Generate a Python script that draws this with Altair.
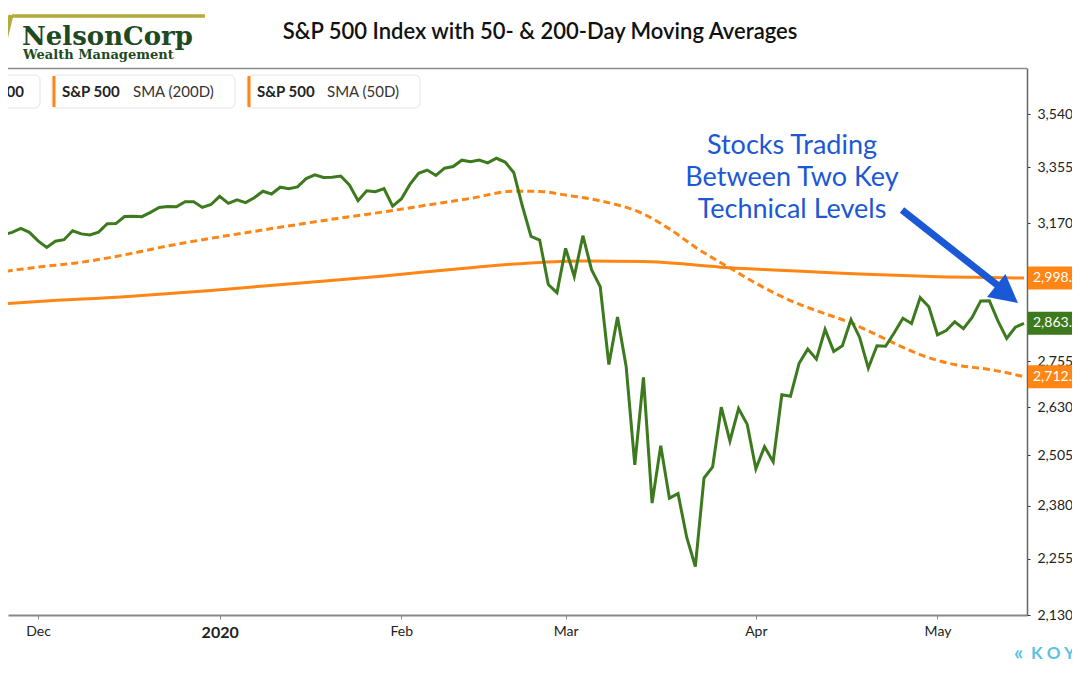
import altair as alt
import pandas as pd

# ---------------- data ----------------
holidays = ["2019-11-28", "2019-12-25", "2020-01-01", "2020-01-20", "2020-02-17", "2020-04-10"]
trade_days = [d.strftime("%Y-%m-%d") for d in pd.bdate_range("2019-11-22", "2020-05-15")
              if d.strftime("%Y-%m-%d") not in holidays]

close_nov = [3110.29, 3133.64, 3140.52, 3153.63, 3140.98]
close_dec = [3113.87, 3093.20, 3112.76, 3117.43, 3145.91, 3135.96, 3132.52, 3141.63, 3168.57, 3168.80,
             3191.45, 3192.52, 3191.14, 3205.37, 3221.22, 3224.01, 3223.38, 3239.91, 3240.02, 3221.29, 3230.78]
close_jan = [3257.85, 3234.85, 3246.28, 3237.18, 3253.05, 3274.70, 3265.35, 3288.13, 3283.15, 3289.29,
             3316.81, 3329.62, 3320.79, 3321.75, 3325.54, 3295.47, 3243.63, 3276.24, 3273.40, 3283.66, 3225.52]
close_feb = [3248.92, 3297.59, 3334.69, 3345.78, 3327.71, 3352.09, 3357.75, 3379.45, 3373.94, 3380.16,
             3370.29, 3386.15, 3373.23, 3337.75, 3225.89, 3128.21, 3116.39, 2978.76, 2954.22]
close_mar = [3090.23, 3003.37, 3130.12, 3023.94, 2972.37, 2746.56, 2882.23, 2741.38, 2480.64, 2711.02,
             2386.13, 2529.19, 2398.10, 2409.39, 2304.92, 2237.40, 2447.33, 2475.56, 2630.07, 2541.47,
             2626.65, 2584.59]
close_apr = [2470.50, 2526.90, 2488.65, 2663.68, 2659.41, 2749.98, 2789.82, 2761.63, 2846.06, 2783.36,
             2799.55, 2874.56, 2823.16, 2736.56, 2799.31, 2797.80, 2836.74, 2878.48, 2863.39, 2939.51, 2912.43]
close_may = [2830.71, 2842.74, 2868.44, 2848.42, 2881.19, 2929.80, 2930.32, 2870.12, 2820.00, 2852.50, 2863.70]
closes = close_nov + close_dec + close_jan + close_feb + close_mar + close_apr + close_may
assert len(closes) == len(trade_days)

sma50_dates = ["2019-11-22", "2019-12-02", "2019-12-09", "2019-12-16", "2019-12-23", "2019-12-31",
               "2020-01-08", "2020-01-15", "2020-01-23", "2020-01-30", "2020-02-06", "2020-02-13",
               "2020-02-21", "2020-02-26", "2020-03-02", "2020-03-06", "2020-03-13", "2020-03-18",
               "2020-03-23", "2020-03-27", "2020-04-03", "2020-04-08", "2020-04-14", "2020-04-17",
               "2020-04-23", "2020-04-28", "2020-05-01", "2020-05-06", "2020-05-11", "2020-05-15"]
sma50_vals = [3015, 3032, 3047, 3070, 3098, 3122, 3144, 3166, 3187, 3207, 3229, 3251, 3275, 3274, 3262,
              3243, 3200, 3152, 3094, 3029, 2955, 2920, 2892, 2865, 2818, 2784, 2758, 2742, 2733, 2712.8]

sma200_dates = ["2019-11-22", "2019-12-02", "2019-12-16", "2019-12-31", "2020-01-15", "2020-01-30",
                "2020-02-13", "2020-02-25", "2020-03-04", "2020-03-13", "2020-03-20", "2020-03-27",
                "2020-04-03", "2020-04-13", "2020-04-20", "2020-04-27", "2020-05-04", "2020-05-11",
                "2020-05-15"]
sma200_vals = [2919, 2928, 2942, 2961, 2983, 3005, 3030, 3045, 3051, 3049, 3041, 3030, 3023, 3017, 3011,
               3006, 3002, 3000, 2998.4]

last_labels = ["SMA200", "Close", "SMA50"]
last_values = [2998.4, 2863.7, 2712.8]

month_labels = ["Dec", "2020", "Feb", "Mar", "Apr", "May"]
y_ticks = [2130, 2255, 2380, 2505, 2630, 2755, 3170, 3355, 3540]

annotation = "Stocks Trading\nBetween Two Key\nTechnical Levels"
title_text = "S&P 500 Index with 50- & 200-Day Moving Averages"

# ---------------- derived tables ----------------
pos = {d: i for i, d in enumerate(trade_days)}
price_df = pd.DataFrame({"date": trade_days, "pos": range(len(trade_days)), "value": closes})
sma50_df = pd.DataFrame({"date": sma50_dates, "pos": [pos[d] for d in sma50_dates], "value": sma50_vals})
sma200_df = pd.DataFrame({"date": sma200_dates, "pos": [pos[d] for d in sma200_dates], "value": sma200_vals})
last_df = pd.DataFrame({"series": last_labels, "value": last_values,
                        "label": [f"{v:,.2f}" for v in last_values]})

month_pos = []
seen = set()
for i, d in enumerate(trade_days):
    m = d[:7]
    if m not in seen:
        seen.add(m)
        if m != "2019-11":
            month_pos.append(i)

expr = "''"
for p, lab in zip(reversed(month_pos), reversed(month_labels)):
    expr = f"datum.value == {p} ? '{lab}' : ({expr})"
year_pos = month_pos[1]

ORANGE = "#ff8514"
GREEN = "#3d7a1e"
BLUE = "#1b58d6"
TXT = "#222222"

xscale = alt.Scale(domain=[1.525, 119.35], nice=False, zero=False)
yscale = alt.Scale(type="log", domain=[2130, 3711], nice=False)

xaxis = alt.Axis(values=month_pos, labelExpr=expr, tickSize=4, tickColor="#888888",
                 domainColor="#888888", domainWidth=2, labelColor=TXT, labelFont="Lato",
                 labelFontSize={"condition": {"test": f"datum.value == {year_pos}", "value": 16}, "value": 14},
                 labelFontWeight={"condition": {"test": f"datum.value == {year_pos}", "value": "bold"},
                                  "value": "normal"},
                 labelPadding=5, grid=False, title=None, labelFlush=False)
yaxis = alt.Axis(orient="right", values=y_ticks, labelExpr="format(datum.value, ',.2f')", tickSize=3,
                 tickColor="#333333", domainColor="#666666", domainWidth=1.5, labelColor=TXT,
                 labelFont="Lato", labelFontSize=14, labelPadding=7, grid=False, title=None,
                 labelFlush=False, labelOverlap=False)

X = alt.X("pos:Q", scale=xscale, axis=xaxis)
Y = alt.Y("value:Q", scale=yscale, axis=yaxis)

one = pd.DataFrame({"k": [0]})


def text(s, x, y, size, color=TXT, weight="normal", align="left", font="Lato", baseline="middle", **kw):
    return alt.Chart(one).mark_text(text=s, fontSize=size, color=color, fontWeight=weight, align=align,
                                    font=font, baseline=baseline, clip=False, **kw).encode(
        x=alt.value(x), y=alt.value(y))


def rule(x, y, x2, y2, color, width, **kw):
    return alt.Chart(one).mark_rule(color=color, strokeWidth=width, clip=False, **kw).encode(
        x=alt.value(x), y=alt.value(y), x2=alt.value(x2), y2=alt.value(y2))


def box(x, x2, y, y2):
    return alt.Chart(one).mark_rect(fill="white", stroke="#e4e4e4", strokeWidth=1, cornerRadius=5,
                                    clip=False).encode(
        x=alt.value(x), x2=alt.value(x2), y=alt.value(y), y2=alt.value(y2))


sma200_line = alt.Chart(sma200_df).mark_line(color=ORANGE, strokeWidth=3, interpolate="monotone",
                                             clip=True).encode(x=X, y=Y)
sma50_line = alt.Chart(sma50_df).mark_line(color=ORANGE, strokeWidth=3, strokeDash=[7, 4],
                                           interpolate="monotone", clip=True).encode(x=X, y=Y)
price_line = alt.Chart(price_df).mark_line(color=GREEN, strokeWidth=3, clip=True).encode(x=X, y=Y)

last_rules = alt.Chart(last_df).mark_rule(strokeWidth=23, clip=False, strokeCap="butt").encode(
    x=alt.value(1020), x2=alt.value(1072), y=Y,
    color=alt.Color("series:N", scale=alt.Scale(domain=last_labels, range=[ORANGE, GREEN, ORANGE]),
                    legend=None))
last_text = alt.Chart(last_df).mark_text(align="left", baseline="middle", color="white", fontSize=14,
                                         font="Lato", clip=False).encode(
    x=alt.value(1025), y=Y, text="label:N")

layers = [
    sma200_line, sma50_line, price_line,
    # header
    rule(-8, 0.5, 1019, 0.5, "#8a8a8a", 1.5),
    rule(4, -52, 197, -52, "#b3ab3c", 3.5),
    rule(-8, -8, 3, -53, "#b3ab3c", 5),
    text("NelsonCorp", 14, -23, 26, color="#1f4a1f", weight="bold", font="DejaVu Serif",
         baseline="alphabetic"),
    text("Wealth Management", 15, -9, 13, color="#1f4a1f", weight="bold", font="DejaVu Serif",
         baseline="alphabetic"),
    text(title_text, 532, -36, 22, color="#111111", weight=600, align="center"),
    # legend chips
    box(-130, 32, 7, 40), text("S&P 500", 16, 24, 15, weight="bold", align="right"),
    box(44, 227, 7, 40), rule(46, 8, 46, 39, ORANGE, 3),
    text("S&P 500", 54, 24, 15, weight="bold"), text("SMA (200D)", 125, 24, 15, color="#333333"),
    box(239, 412, 7, 40), rule(241, 8, 241, 39, ORANGE, 3),
    text("S&P 500", 249, 24, 15, weight="bold"), text("SMA (50D)", 319, 24, 15, color="#333333"),
    # annotation
    alt.Chart(one).mark_text(text=annotation, lineBreak="\n", lineHeight=32, fontSize=27, font="Lato",
                             color=BLUE, align="center", baseline="middle", clip=False).encode(
        x=alt.value(784), y=alt.value(78)),
    rule(894, 142, 993, 220, BLUE, 7, strokeCap="butt"),
    alt.Chart(one).mark_point(shape="M0,-1L0.95,0.8L-0.95,0.8Z", size=961, angle=128.7, filled=True,
                              color=BLUE, opacity=1, clip=False).encode(
        x=alt.value(997.9), y=alt.value(225.3)),
    # right labels
    last_rules, last_text,
    # logo bottom right
    text("«", 1006, 586, 20, color="#5bc2e2", weight="bold"),
    text("K O Y", 1023, 586, 17, color="#5bc2e2", weight="bold"),
]

chart = alt.layer(*layers).properties(
    width=1019, height=547,
    padding={"left": 0, "top": 60, "right": 45, "bottom": 45},
    autosize="none",
).configure_view(stroke=None)

chart.save("out.html", embed_options={"renderer": "svg", "actions": False})
